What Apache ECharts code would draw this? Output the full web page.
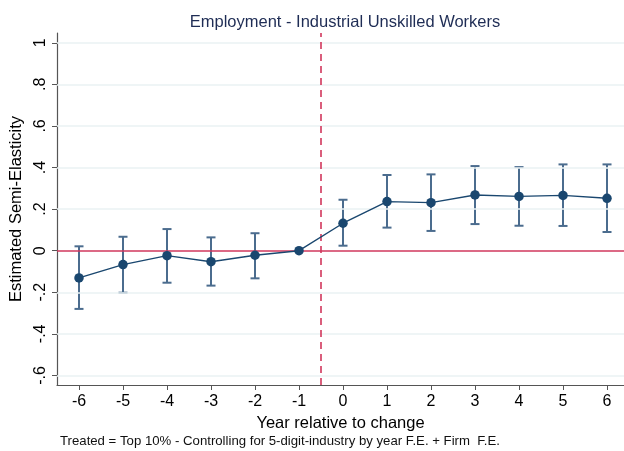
<!DOCTYPE html>
<html>
<head>
<meta charset="utf-8">
<script src="https://cdn.jsdelivr.net/npm/echarts@6/dist/echarts.min.js"></script>
<style>html,body{margin:0;padding:0;background:#fff}#c{width:624px;height:451px}</style>
</head>
<body>
<div id="c"></div>
<script>
const years = [-6, -5, -4, -3, -2, -1, 0, 1, 2, 3, 4, 5, 6];
const estimates = [-0.131, -0.067, -0.024, -0.053, -0.022, 0, 0.132, 0.236, 0.231, 0.268, 0.261, 0.266, 0.252];
const ciUpper = [0.021, 0.067, 0.104, 0.064, 0.084, null, 0.245, 0.364, 0.367, 0.407, 0.402, 0.415, 0.415];
const ciLower = [-0.280, -0.202, -0.154, -0.168, -0.133, null, 0.024, 0.111, 0.095, 0.128, 0.120, 0.119, 0.090];
const yTicks = [-0.6, -0.4, -0.2, 0, 0.2, 0.4, 0.6, 0.8, 1];
const xTicks = [-6, -5, -4, -3, -2, -1, 0, 1, 2, 3, 4, 5, 6];
const treatmentLine = -0.5;
const titleText = 'Employment - Industrial Unskilled Workers';
const xName = 'Year relative to change';
const yName = 'Estimated Semi-Elasticity';
const noteText = 'Treated = Top 10% - Controlling for 5-digit-industry by year F.E. + Firm  F.E.';

const font = 'Arial, "Liberation Sans", sans-serif';
const navy = '#1a476f';
const barColor = '#4b6c8e';
const red = '#d1375c';

function fmtY(v) {
  if (Math.abs(v) < 1e-9) return '0';
  const s = String(Math.round(Math.abs(v) * 10) / 10).replace(/^0/, '');
  return (v < 0 ? '-' : '') + s;
}

const chart = echarts.init(document.getElementById('c'), null, {renderer: 'canvas'});
const ciData = years.map((x, i) => [x, ciLower[i], ciUpper[i]]).filter(d => d[1] !== null);
const pointData = years.map((x, i) => [x, estimates[i]]);

chart.setOption({
  animation: false,
  backgroundColor: '#fff',
  title: {
    text: titleText,
    left: 340, top: 9, textAlign: 'center',
    textStyle: {fontFamily: font, fontSize: 16.5, fontWeight: 'normal', color: '#1f2d55'}
  },
  grid: {left: 57, top: 33, width: 567, height: 352, containLabel: false},
  xAxis: {
    type: 'value', min: -6.5, max: 6.386,
    name: xName, nameLocation: 'middle', nameGap: 25,
    nameTextStyle: {fontFamily: font, fontSize: 16.5, color: '#000'},
    axisLine: {show: true, onZero: false, lineStyle: {color: '#555', width: 1.2}},
    axisTick: {show: true, customValues: xTicks, length: 5, lineStyle: {color: '#555'}},
    axisLabel: {customValues: xTicks, fontFamily: font, fontSize: 16, color: '#000', margin: 9,
      formatter: v => String(v)},
    splitLine: {show: false}
  },
  yAxis: {
    type: 'value', min: -0.646, max: 1.047,
    name: yName, nameLocation: 'middle', nameGap: 29,
    nameTextStyle: {fontFamily: font, fontSize: 16.5, color: '#000'},
    axisLine: {show: true, onZero: false, lineStyle: {color: '#555', width: 1.2}},
    axisTick: {show: true, customValues: yTicks, length: 5, lineStyle: {color: '#555'}},
    axisLabel: {customValues: yTicks, rotate: 90, fontFamily: font, fontSize: 16, color: '#000', margin: 8,
      formatter: fmtY},
    splitLine: {show: false}
  },
  series: [
    {
      type: 'line', data: [], silent: true,
      markLine: {
        silent: true, symbol: 'none', label: {show: false},
        lineStyle: {color: '#eaf2f3', width: 1.5, type: 'solid'},
        data: yTicks.filter(v => v !== 0).map(v => ({yAxis: v}))
      }
    },
    {
      type: 'line', data: [], silent: true, z: 3,
      markLine: {
        silent: true, symbol: 'none', label: {show: false},
        data: [
          {yAxis: 0, lineStyle: {color: red, width: 1.6, type: 'solid'}},
          {xAxis: treatmentLine, lineStyle: {color: red, width: 1.6, type: [7, 5]}}
        ]
      }
    },
    {
      type: 'custom', z: 4, silent: true,
      data: ciData,
      renderItem: function (params, api) {
        const x = api.value(0);
        const lo = api.coord([x, api.value(1)]);
        const hi = api.coord([x, api.value(2)]);
        const w = 4.5;
        const st = {stroke: barColor, lineWidth: 2};
        return {
          type: 'group',
          children: [
            {type: 'line', shape: {x1: lo[0], y1: lo[1], x2: hi[0], y2: hi[1]}, style: st},
            {type: 'line', shape: {x1: lo[0] - w, y1: lo[1], x2: lo[0] + w, y2: lo[1]}, style: st},
            {type: 'line', shape: {x1: hi[0] - w, y1: hi[1], x2: hi[0] + w, y2: hi[1]}, style: st}
          ]
        };
      }
    },
    {
      type: 'line', z: 5, data: pointData,
      symbol: 'circle', symbolSize: 9.5,
      lineStyle: {color: navy, width: 1.4},
      itemStyle: {color: navy}
    }
  ],
  graphic: [
    {type: 'text', left: 60, top: 435,
     style: {text: noteText, font: '13.2px ' + font, fill: '#111'}}
  ]
});
</script>
</body>
</html>
